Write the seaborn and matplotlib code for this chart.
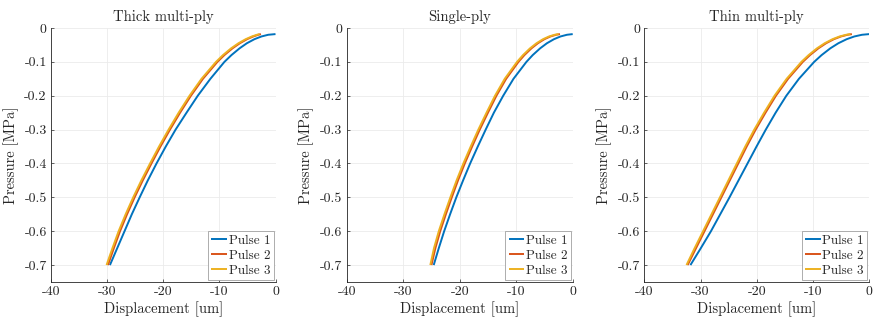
import numpy as np
import pandas as pd
import matplotlib
matplotlib.use("Agg")
import matplotlib.pyplot as plt
import seaborn as sns

# ---------------- data ----------------
titles = ["Thick multi-ply", "Single-ply", "Thin multi-ply"]
pulses = ["Pulse 1", "Pulse 2", "Pulse 3"]

# pressure levels (MPa) at which displacement was read
y_full = [-0.70, -0.65, -0.60, -0.55, -0.50, -0.45, -0.40, -0.35, -0.30, -0.25,
          -0.20, -0.15, -0.10, -0.08, -0.06, -0.045, -0.033, -0.025, -0.020, -0.018]

# Thick multi-ply (displacement in um)
thick_p1_x = [-29.5, -28.2, -26.9, -25.6, -24.2, -22.75, -21.2, -19.55, -17.8, -15.85,
              -13.85, -11.6, -9.1, -7.85, -6.4, -5.1, -3.75, -2.5, -1.3, 0.0]
thick_p2_x = [-29.85, -28.8, -27.7, -26.45, -25.1, -23.65, -22.1, -20.5, -18.8, -17.0,
              -15.07, -12.93, -10.35, -9.11, -7.66, -6.35, -5.06, -3.96, -3.06, -2.6]
thick_p3_x = [-30.1, -29.05, -27.95, -26.7, -25.35, -23.9, -22.35, -20.75, -19.05, -17.25,
              -15.32, -13.18, -10.6, -9.36, -7.91, -6.6, -5.31, -4.21, -3.31, -2.85]

# Single-ply
single_p1_x = [-24.6, -23.7, -22.75, -21.7, -20.6, -19.4, -18.15, -16.8, -15.4, -13.95,
               -12.3, -10.48, -8.19, -7.08, -5.76, -4.56, -3.31, -2.16, -1.02, 0.0]
single_p2_x = [-25.0, -24.3, -23.45, -22.45, -21.4, -20.3, -19.1, -17.8, -16.45, -15.0,
               -13.5, -11.78, -9.6, -8.55, -7.3, -6.16, -5.0, -3.94, -2.94, -2.25]
single_p3_x = [-25.2, -24.55, -23.7, -22.7, -21.65, -20.55, -19.35, -18.05, -16.7, -15.25,
               -13.75, -12.03, -9.85, -8.8, -7.55, -6.41, -5.25, -4.19, -3.19, -2.5]

# Thin multi-ply
thin_p1_x = [-31.8, -29.95, -28.15, -26.5, -24.85, -23.25, -21.65, -20.05, -18.4, -16.65,
             -14.75, -12.51, -9.8, -8.48, -6.93, -5.5, -4.02, -2.66, -1.3, 0.0]
thin_p2_x = [-32.3, -30.8, -29.3, -27.8, -26.3, -24.8, -23.3, -21.8, -20.2, -18.45,
             -16.6, -14.44, -11.82, -10.54, -9.05, -7.68, -6.29, -5.03, -3.86, -3.1]
thin_p3_x = [-32.5, -31.05, -29.55, -28.05, -26.55, -25.05, -23.55, -22.05, -20.45, -18.7,
             -16.85, -14.69, -12.07, -10.79, -9.3, -7.93, -6.54, -5.28, -4.11, -3.35]

x_ticks = [-40, -30, -20, -10, 0]
x_ticklabels = ["-40", "-30", "-20", "-10", "0"]
y_ticks = [-0.7, -0.6, -0.5, -0.4, -0.3, -0.2, -0.1, 0]
y_ticklabels = ["-0.7", "-0.6", "-0.5", "-0.4", "-0.3", "-0.2", "-0.1", "0"]

xlabel = "Displacement [um]"
ylabel = "Pressure [MPa]"
colors = ["#0072BD", "#D95319", "#EDB120"]

panels = [
    [thick_p1_x, thick_p2_x, thick_p3_x],
    [single_p1_x, single_p2_x, single_p3_x],
    [thin_p1_x, thin_p2_x, thin_p3_x],
]

# ---------------- style ----------------
sns.set_theme(style="white")
plt.rcParams["font.family"] = ["cmr10", "DejaVu Serif"]
plt.rcParams["axes.unicode_minus"] = False
plt.rcParams["mathtext.fontset"] = "cm"

fig = plt.figure(figsize=(8.81, 3.2), dpi=100)
lefts = [51 / 881, 346.7 / 881, 644.3 / 881]
widths = [224.5 / 881, 226 / 881, 225 / 881]
bottom = 1 - 282 / 320
height = 254 / 320

for i, (title, series) in enumerate(zip(titles, panels)):
    ax = fig.add_axes([lefts[i], bottom, widths[i], height])
    rows = []
    for name, xs in zip(pulses, series):
        for xv, yv in zip(xs, y_full):
            rows.append({"x": xv, "y": yv, "pulse": name})
    df = pd.DataFrame(rows)
    sns.lineplot(data=df, x="x", y="y", hue="pulse", palette=colors,
                 sort=False, estimator=None, linewidth=1.4, ax=ax)
    for ln in ax.get_lines():
        ln.set_solid_joinstyle("round")
        ln.set_solid_capstyle("butt")
    ax.set_xlim(-40, 0)
    ax.set_ylim(-0.75, 0)
    ax.set_xticks(x_ticks)
    ax.set_xticklabels(x_ticklabels)
    ax.set_yticks(y_ticks)
    ax.set_yticklabels(y_ticklabels)
    ax.grid(True, color="#ebebeb", linewidth=0.6)
    ax.set_axisbelow(True)
    for s in ["top", "right"]:
        ax.spines[s].set_visible(False)
    for s in ["left", "bottom"]:
        ax.spines[s].set_color("#262626")
        ax.spines[s].set_linewidth(0.6)
    ax.tick_params(axis="both", direction="in", length=2, width=0.5,
                   colors="#262626", labelsize=10, pad=3,
                   bottom=True, left=True)
    ax.set_title(title, fontsize=10.5, color="#262626", pad=5)
    ax.set_xlabel(xlabel, fontsize=10.5, color="#262626", labelpad=2)
    ax.set_ylabel(ylabel, fontsize=10.5, color="#262626", labelpad=4)
    leg = ax.legend(loc="lower right", fontsize=9.5, frameon=True, fancybox=False,
                    edgecolor="#a0a0a0", framealpha=1, borderpad=0.25,
                    handlelength=1.2, handletextpad=0.1, labelspacing=0.2,
                    borderaxespad=0.15)
    leg.get_frame().set_linewidth(0.6)
    for t in leg.get_texts():
        t.set_color("#262626")

fig.savefig("out.png", dpi=100)
